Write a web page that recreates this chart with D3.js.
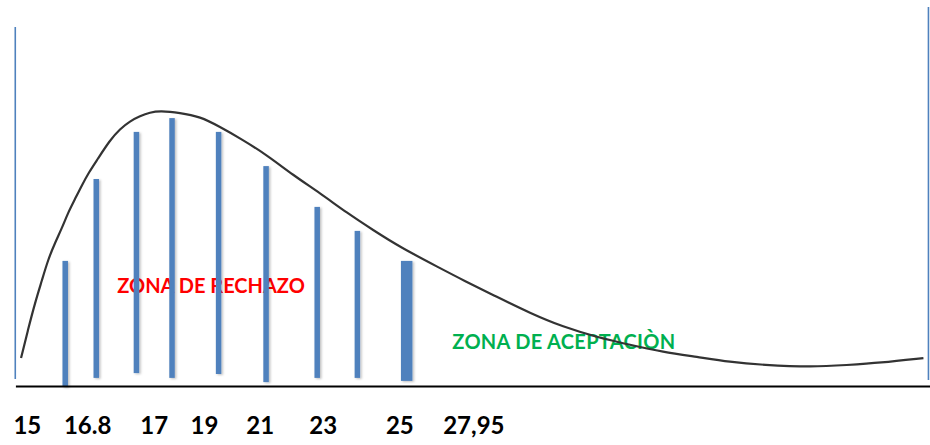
<!DOCTYPE html>
<html>
<head>
<meta charset="utf-8">
<script src="https://cdn.jsdelivr.net/npm/d3@7"></script>
<style>
  body { margin: 0; background: #fff; }
  svg { display: block; }
</style>
</head>
<body>
<svg id="chart" width="930" height="445"></svg>
<script>
// position units along the axis (0..100) and height units (0..100)
const tickLabels = ["15", "16.8", "17", "19", "21", "23", "25", "27,95"];
const tickPos = [1.3, 7.9, 15.2, 20.7, 26.8, 33.7, 42.1, 50.2];

const barPos = [5.5, 8.9, 13.3, 17.2, 22.3, 27.5, 33.1, 37.5, 42.9];
const barTop = [41.7, 69, 84.7, 89.3, 84.7, 73.3, 59.7, 51.7, 41.7];
const barBase = [-0.3, 2.7, 4.3, 2.7, 4, 1.3, 2.7, 2.7, 1.7];

const limitPos = [0.03, 100.05];
const limitTop = [119.7, 126.3];
const limitBase = [2.3, 2];

const curveX = [0.66, 1.42, 2.19, 2.96, 3.61, 4.38, 5.15, 5.8, 6.57, 7.34, 8.11, 8.98,
  10.41, 11.5, 12.6, 13.69, 14.79, 15.88, 18.07, 20.26, 22.45, 24.64, 27.6, 30.45,
  33.41, 36.36, 39.21, 42.17, 46.55, 49.07, 52.79, 56.41, 60.02, 63.75, 67.36, 70.97,
  74.7, 78.3, 81.9, 87.4, 91.1, 94.7, 99.5];
const curveY = [9.3, 18.7, 27.7, 35.3, 42, 47.7, 52.7, 57.7, 62.3, 67, 71.3, 75.3,
  82, 85.7, 88.3, 90, 91.2, 91.7, 91.1, 89.8, 86.4, 82.6, 77, 70.3,
  64.3, 57.7, 52, 46.3, 39.3, 35.3, 29.7, 24.3, 19.7, 16.3, 13.7, 11.3,
  9.7, 8, 7, 6.3, 7, 7.7, 9.3];

const zoneLabels = ["ZONA DE RECHAZO", "ZONA DE ACEPTACIÒN"];
const zonePos = [11.2, 47.9];
const zoneHeight = [31, 12.2];
const zoneColors = ["#ff0000", "#00b050"];

const svg = d3.select("#chart"),
    width = +svg.attr("width"),
    height = +svg.attr("height");

const x = d3.scaleLinear().domain([0, 100]).range([15, 928]);
const y = d3.scaleLinear().domain([0, 100]).range([386, 86]);

const defs = svg.append("defs");
const shadow = defs.append("filter")
    .attr("id", "shadow")
    .attr("x", "-50%").attr("y", "-10%")
    .attr("width", "200%").attr("height", "120%");
shadow.append("feDropShadow")
    .attr("dx", 1.5).attr("dy", 1)
    .attr("stdDeviation", 1)
    .attr("flood-color", "#000")
    .attr("flood-opacity", 0.25);

// zone labels sit behind the bars
svg.append("g")
    .selectAll("text")
    .data(zoneLabels)
    .join("text")
    .attr("x", (d, i) => x(zonePos[i]))
    .attr("y", (d, i) => y(zoneHeight[i]))
    .attr("fill", (d, i) => zoneColors[i])
    .style("font-family", "Lato, 'Open Sans', sans-serif")
    .style("font-weight", "bold")
    .style("font-size", "20px")
    .style("letter-spacing", (d, i) => i ? "0.3px" : "0px")
    .text(d => d);

// limit lines at both ends
svg.append("g")
    .selectAll("line")
    .data(limitPos)
    .join("line")
    .attr("x1", d => x(d))
    .attr("x2", d => x(d))
    .attr("y1", (d, i) => y(limitBase[i]))
    .attr("y2", (d, i) => y(limitTop[i]))
    .attr("stroke", "#4f81bd")
    .attr("stroke-width", 1.6);

// bars
const bars = barPos.map((p, i) => ({p, top: barTop[i], base: barBase[i], wide: i === barPos.length - 1}));
svg.append("g")
    .attr("filter", "url(#shadow)")
    .selectAll("rect")
    .data(bars)
    .join("rect")
    .attr("x", d => x(d.p) - (d.wide ? 5.75 : 2.75))
    .attr("width", d => d.wide ? 11.5 : 5.5)
    .attr("y", d => y(d.top))
    .attr("height", d => y(d.base) - y(d.top))
    .attr("fill", "#4f81bd");

// density curve
const line = d3.line()
    .x(d => x(d[0]))
    .y(d => y(d[1]))
    .curve(d3.curveBasis);

svg.append("path")
    .datum(curveX.map((v, i) => [v, curveY[i]]))
    .attr("d", line)
    .attr("fill", "none")
    .attr("stroke", "#333")
    .attr("stroke-width", 2.2);

// axis with labels
const axis = d3.axisBottom(x)
    .tickValues(tickPos)
    .tickFormat((d, i) => tickLabels[i])
    .tickSize(0)
    .tickPadding(30);

const gAxis = svg.append("g")
    .attr("transform", `translate(0,${y(0) + 0.5})`)
    .call(axis);

gAxis.select(".domain")
    .attr("d", `M${x(0.1)},0H${width}`)
    .attr("stroke", "#000")
    .attr("stroke-width", 2);

gAxis.selectAll("text")
    .attr("fill", "#000")
    .style("font-family", "Lato, 'Open Sans', sans-serif")
    .style("font-weight", "bold")
    .style("font-size", "24px");
</script>
</body>
</html>
